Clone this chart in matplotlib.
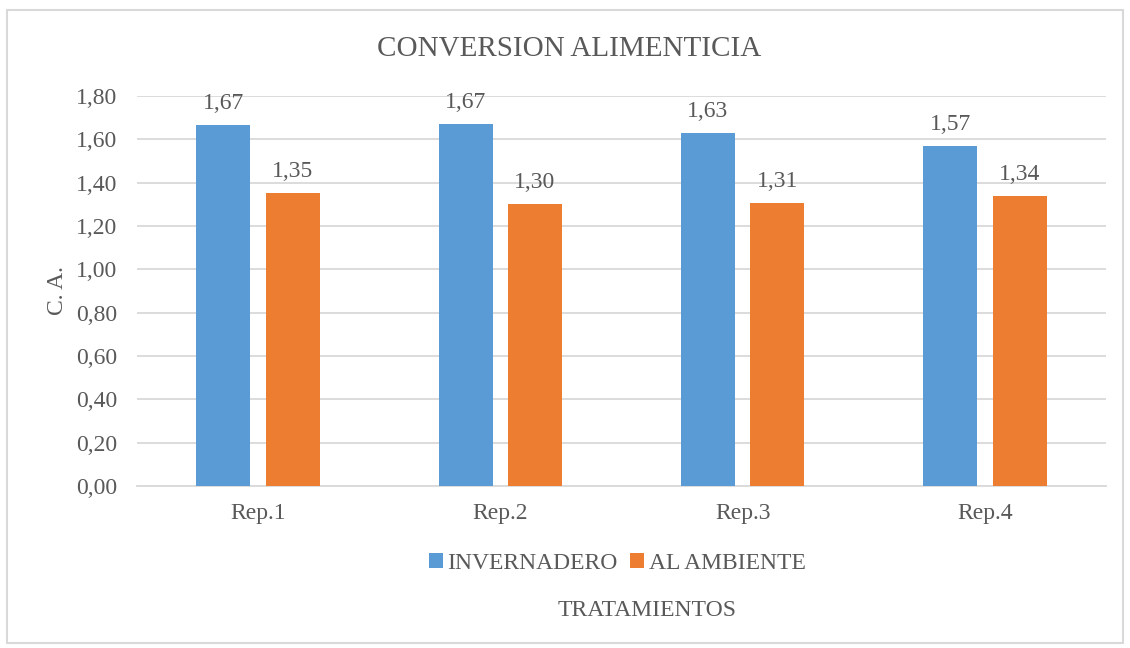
import matplotlib
matplotlib.use("Agg")
import matplotlib.pyplot as plt
import numpy as np
from matplotlib.patches import Rectangle

categories = ["Rep.1", "Rep.2", "Rep.3", "Rep.4"]
invernadero = [1.666, 1.672, 1.630, 1.570]
ambiente = [1.352, 1.302, 1.308, 1.337]
inv_labels = ["1,67", "1,67", "1,63", "1,57"]
amb_labels = ["1,35", "1,30", "1,31", "1,34"]
yticks = [0.0, 0.2, 0.4, 0.6, 0.8, 1.0, 1.2, 1.4, 1.6, 1.8]
ytick_labels = ["0,00", "0,20", "0,40", "0,60", "0,80", "1,00", "1,20", "1,40", "1,60", "1,80"]

plt.rcParams['font.family'] = ['Liberation Serif', 'DejaVu Serif']
txt = "#595959"
grid = "#D9D9D9"
blue = "#5B9BD5"
orange = "#ED7D31"

fig = plt.figure(figsize=(11.3, 6.48), dpi=100)
fig.patches.append(Rectangle((0.006, 0.008), 0.988, 0.977, transform=fig.transFigure,
                             fill=False, edgecolor=grid, linewidth=1.5))
ax = fig.add_axes([0.1212, 0.25, 0.8576, 0.6019])

x = np.arange(len(categories))
w = 0.223
off = 0.143
b1 = ax.bar(x - off, invernadero, w, color=blue, label="INVERNADERO", zorder=3)
b2 = ax.bar(x + off, ambiente, w, color=orange, label="AL AMBIENTE", zorder=3)

for xi, v, l in zip(x - off, invernadero, inv_labels):
    ax.text(xi, v + 0.05, l, ha="center", va="bottom", fontsize=17, color=txt)
for xi, v, l in zip(x + off, ambiente, amb_labels):
    ax.text(xi, v + 0.05, l, ha="center", va="bottom", fontsize=17, color=txt)

ax.set_xlim(-0.5, 3.5)
ax.set_ylim(0, 1.8)
ax.set_yticks(yticks)
ax.set_yticklabels(ytick_labels)
ax.set_xticks(x)
ax.set_xticklabels(categories)
ax.tick_params(axis="both", length=0, labelsize=17, colors=txt)
ax.tick_params(axis="y", pad=14)
ax.tick_params(axis="x", pad=12)
ax.yaxis.grid(True, color=grid, linewidth=1.3, zorder=0)
ax.set_axisbelow(True)
for s in ["top", "right", "left"]:
    ax.spines[s].set_visible(False)
ax.spines["bottom"].set_color(grid)
ax.spines["bottom"].set_linewidth(1.3)

ax.set_ylabel("C. A.", fontsize=17, color=txt, labelpad=6)
fig.text(0.504, 0.925, "CONVERSION ALIMENTICIA", ha="center", va="center", fontsize=21, color=txt)
fig.text(0.573, 0.058, "TRATAMIENTOS", ha="center", va="center", fontsize=17, color=txt)

leg = fig.legend(handles=[b1, b2], loc="center", bbox_to_anchor=(0.546, 0.131), ncol=2,
                 frameon=False, fontsize=17, handlelength=0.6, handleheight=0.6,
                 handletextpad=0.2, columnspacing=0.5, labelcolor=txt)

fig.savefig("out.png", dpi=100)
